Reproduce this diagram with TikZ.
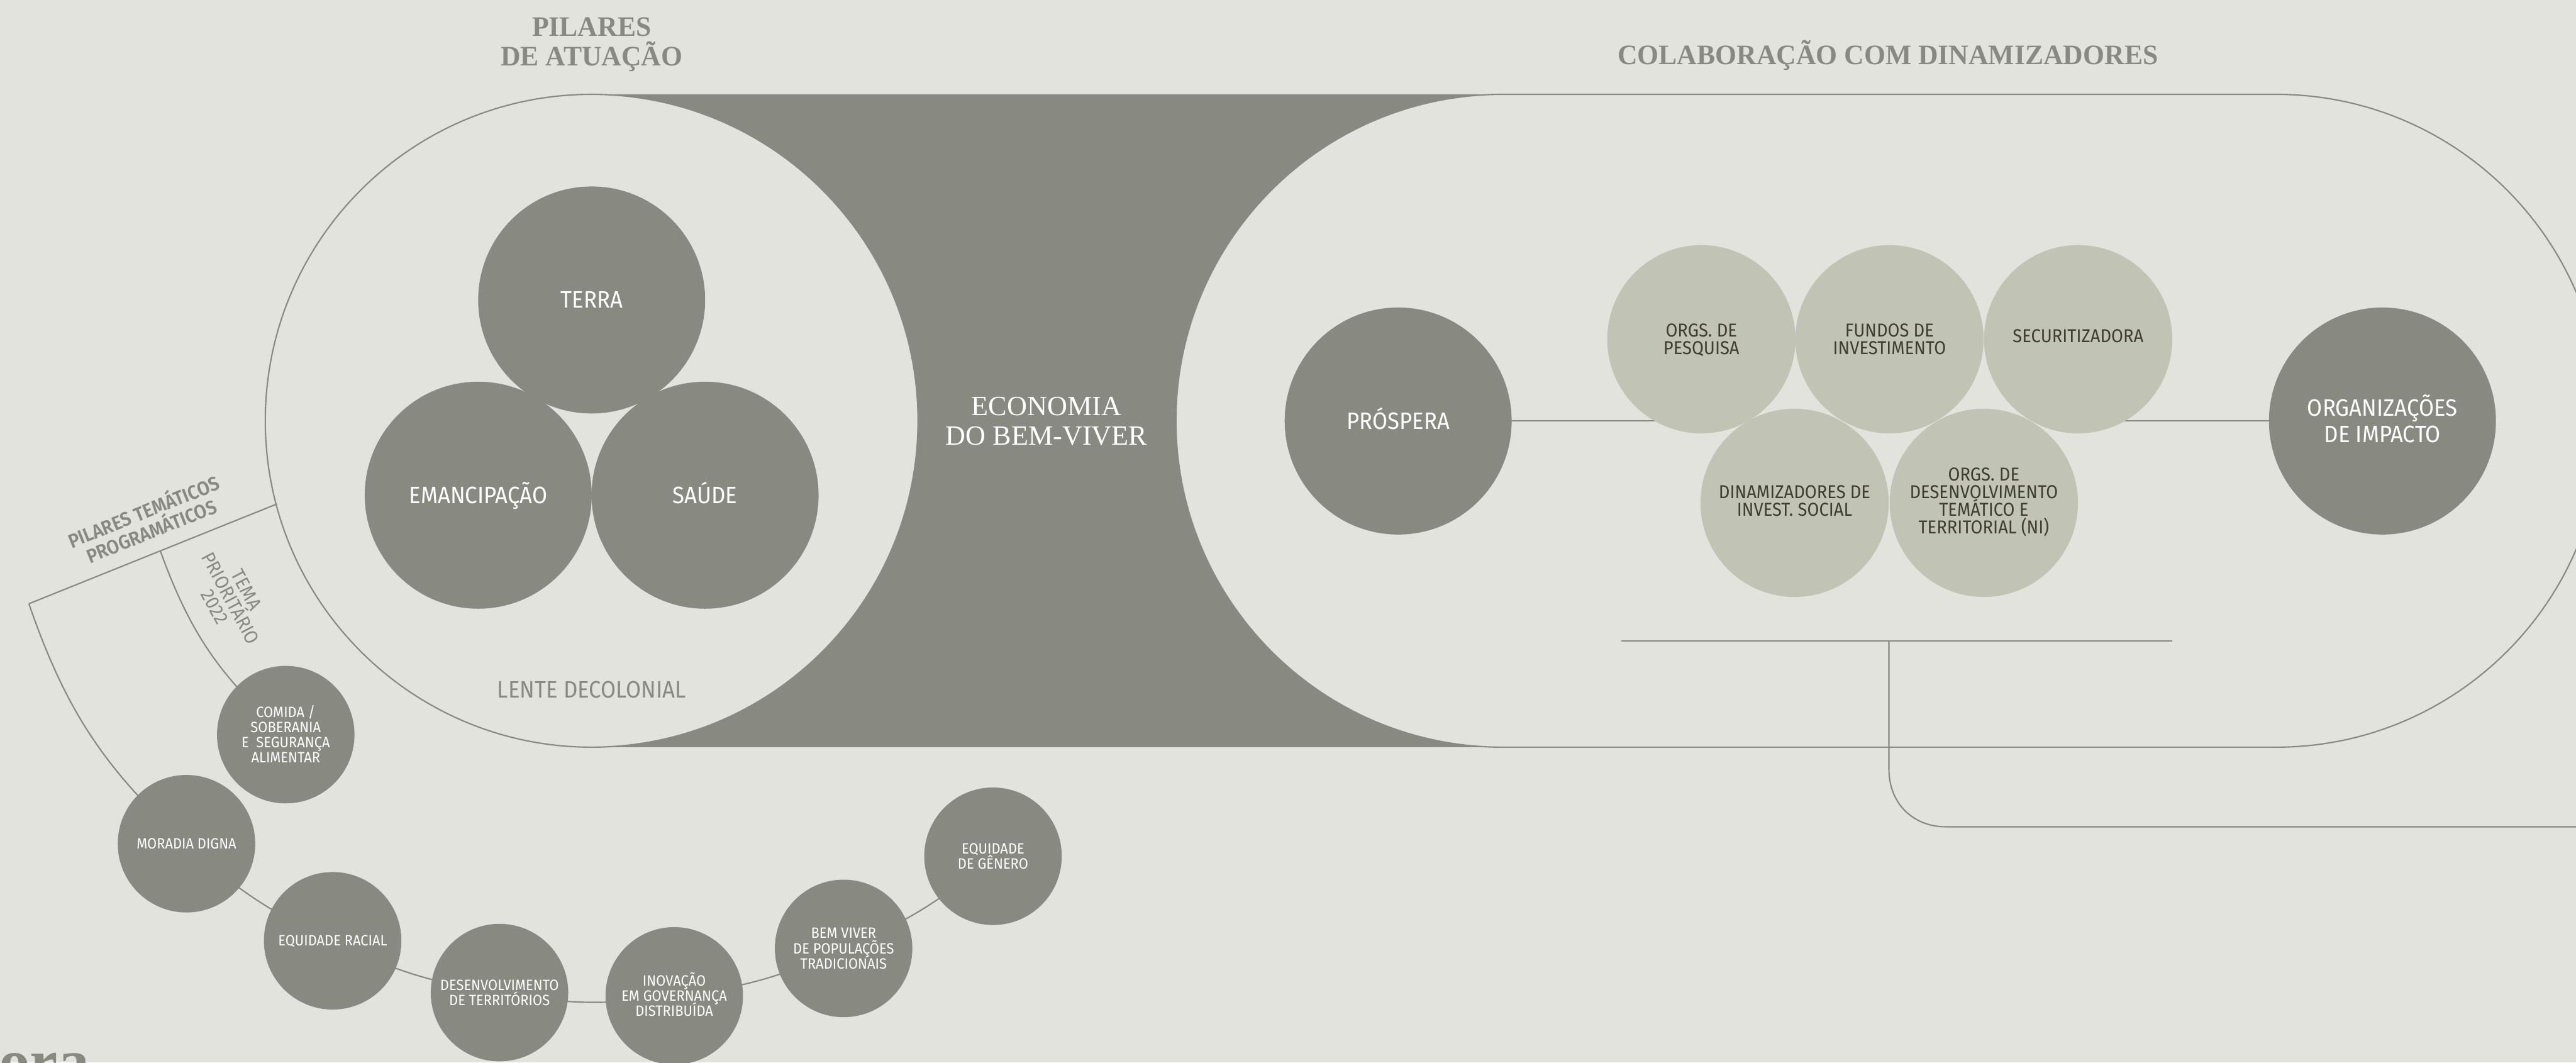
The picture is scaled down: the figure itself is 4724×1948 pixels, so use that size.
\documentclass[tikz,border=0pt]{standalone}
\usepackage{fontspec}
\setmainfont{Liberation Serif}
\newfontfamily\cond[FakeStretch=0.92]{Fira Sans}
\newfontfamily\condm[FakeStretch=0.92]{Fira Sans SemiBold}
\newfontfamily\headf[FakeStretch=0.975]{Liberation Serif Bold}
\usetikzlibrary{calc}
\definecolor{bgc}{HTML}{E2E3DD}
\definecolor{darkc}{HTML}{888980}
\definecolor{lightc}{HTML}{C1C3B4}
\definecolor{inkc}{HTML}{3F3D2F}
\pgfdeclarelayer{bgl}
\pgfdeclarelayer{conn}
\pgfsetlayers{bgl,conn,main}
\newcommand{\pxfont}[2]{\fontsize{#1}{#2}\selectfont\lineskiplimit=-100pt\relax}
\newcommand{\lab}[1]{\smash{#1}\vphantom{E}}
\newcommand{\lift}{\rule[-2pt]{0pt}{2pt}}
\tikzset{
  x=0.01cm,y=-0.01cm,
  rule/.style={draw=darkc,line width=0.7pt},
  bigdot/.style={circle,fill=darkc,minimum size=4.16cm,inner sep=0pt,text=white,align=center,font=\cond\pxfont{12.4}{13.7}},
  lightdot/.style={circle,fill=lightc,minimum size=3.45cm,inner sep=0pt,text=inkc,align=center,font=\cond\pxfont{9.75}{9.2}},
  smalldot/.style={circle,fill=darkc,minimum size=2.52cm,inner sep=0pt,text=white,align=center,font=\cond\pxfont{7.8}{7.9}},
  heading/.style={align=center,text=darkc,font=\headf\pxfont{14.7}{15.4}},
  graytext/.style={align=center,text=darkc}
}
\begin{document}
\begin{tikzpicture}
\useasboundingbox (0,0) rectangle (4724,1948);
\clip (0,0) rectangle (4724,1948);
\begin{pgfonlayer}{bgl}
\fill[bgc] (0,0) rectangle (4724,1948);
\fill[darkc] (1085,173) rectangle (2760,1370);
\fill[bgc,draw=darkc,line width=0.7pt] (1085,771.5) circle[radius=598.5];
\filldraw[fill=bgc,draw=darkc,line width=0.7pt] (2755,173) -- (4174,173) arc[start angle=90,end angle=-90,x radius=598.5,y radius=-598.5] -- (2755,1370) arc[start angle=-90,end angle=-270,x radius=598.5,y radius=-598.5] -- cycle;
\end{pgfonlayer}

% main circles
\node[bigdot] (terra) at (1085,550) {\lab{TERRA}};
\node[bigdot] (eman) at (877,908) {\lab{EMANCIPAÇÃO}};
\node[bigdot] (saude) at (1293,908) {\lab{SAÚDE}};
\node[bigdot] (prospera) at (2564,772) {\lab{PRÓSPERA}};
\node[bigdot] (impacto) at (4369,772) {\lab{ORGANIZAÇÕES}\\\lab{DE IMPACTO}};

\node[lightdot] (pesq) at (3120,622) {\lab{ORGS. DE}\\\lab{PESQUISA}};
\node[lightdot] (fundos) at (3465,622) {\lab{FUNDOS DE}\\\lab{INVESTIMENTO}};
\node[lightdot] (secur) at (3811,622) {\raisebox{3pt}{\lab{SECURITIZADORA}}};
\node[lightdot] (dinam) at (3291,922) {\lab{DINAMIZADORES DE}\\\lab{INVEST. SOCIAL}\lift};
\node[lightdot] (desen) at (3638,922) {\lab{ORGS. DE}\\\lab{DESENVOLVIMENTO}\\\lab{TEMÁTICO E}\\\lab{TERRITORIAL (NI)}\lift};

\node[smalldot] (comida) at (524,1347) {\lab{COMIDA /}\\\lab{SOBERANIA}\\\lab{E\ \ SEGURANÇA}\\\lab{ALIMENTAR}};
\node[smalldot] (moradia) at (342,1547) {\lab{MORADIA DIGNA}};
\node[smalldot] (racial) at (610,1725) {\lab{EQUIDADE RACIAL}};
\node[smalldot] (territ) at (916,1820) {\lab{DESENVOLVIMENTO}\\\lab{DE TERRITÓRIOS}};
\node[smalldot] (inov) at (1236.5,1826) {\lab{INOVAÇÃO}\\\lab{EM GOVERNANÇA}\\\lab{DISTRIBUÍDA}};
\node[smalldot] (bem) at (1547,1739) {\lab{BEM VIVER}\\\lab{DE POPULAÇÕES}\\\lab{TRADICIONAIS}};
\node[smalldot] (genero) at (1821,1570) {\lab{EQUIDADE}\\\lab{DE GÊNERO}};

% labels
\node[heading] (pilares) at (1085,76) {\lab{PILARES}\\\lab{DE ATUAÇÃO}};
\node[heading,anchor=base] (colab) at (3462,118) {COLABORAÇÃO COM DINAMIZADORES};
\node[align=center,text=white,font=\pxfont{14.5}{15.4}] (econ) at (1919,772) {\lab{ECONOMIA}\\\lab{DO BEM-VIVER}};
\node[graytext,font=\cond\pxfont{12.4}{13}] (lente) at (1085,1265) {\lab{LENTE DECOLONIAL}};
\node[graytext,rotate=21.9,font=\condm\pxfont{10.2}{10.8}] (temat) at (271,957) {\lab{PILARES TEMÁTICOS}\\\lab{PROGRAMÁTICOS}};
\node[graytext,rotate=-62,font=\cond\pxfont{10}{9.4}] (tema) at (423,1097) {\lab{TEMA}\\\lab{PRIORITÁRIO}\\\lab{2022}};
\node[text=darkc,font=\bfseries\pxfont{32.7}{36},anchor=base west,inner sep=0pt] (logo) at (-3,1985) {ora};

% connectors
\coordinate (arcL) at (508,924);
\coordinate (arcM) at (294,1010);
\coordinate (arcO) at (53,1107);
\coordinate (underL) at (2973,1175);
\coordinate (underM) at (3464,1175);
\coordinate (underR) at (3984,1175);
\coordinate (exitR) at (4724,1516);
\begin{pgfonlayer}{conn}
\draw[rule] (arcL) -- (arcO);
\draw[rule] (arcM) to[bend right=14.5] (comida.center);
\draw[rule] (arcO) to[bend right=14.2] (moradia.center);
\draw[rule] (moradia.center) to[bend right=9] (racial.center);
\draw[rule] (racial.center) to[bend right=9] (territ.center);
\draw[rule] (territ.center) to[bend right=9] (inov.center);
\draw[rule] (inov.center) to[bend right=9] (bem.center);
\draw[rule] (bem.center) to[bend right=9] (genero.center);
\draw[rule] (prospera.center) -- (prospera.center -| pesq.center);
\draw[rule] (secur.center |- impacto.center) -- (impacto.center);
\draw[rule] (underL) -- (underR);
\draw[rule] (underM) -- (3464,1410) .. controls (3464,1475) and (3510,1516) .. (3568,1516) -- (exitR);
\end{pgfonlayer}
\end{tikzpicture}
\end{document}
